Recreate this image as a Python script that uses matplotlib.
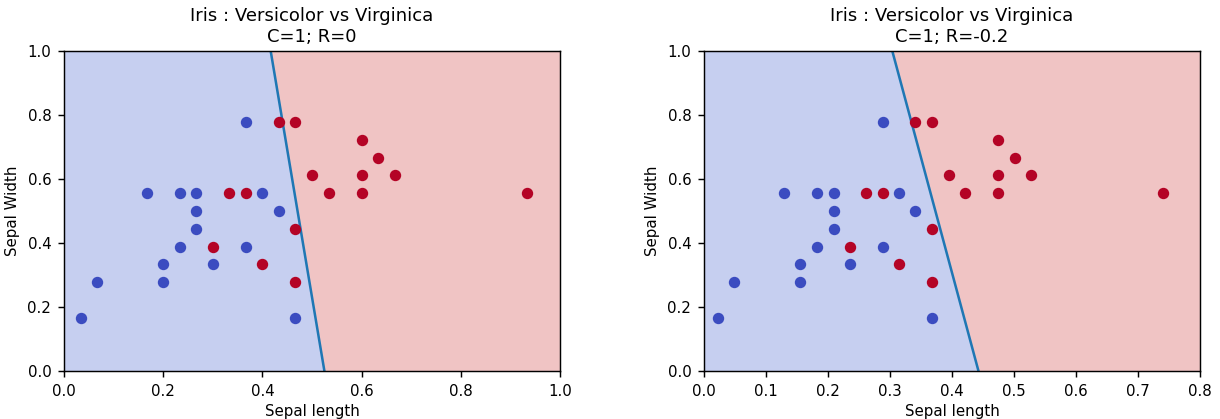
import numpy as np
import matplotlib
matplotlib.use("Agg")
import matplotlib.pyplot as plt
from matplotlib.colors import ListedColormap

plt.rcParams["font.size"] = 8.3

# Versicolor (class 0) and Virginica (class 1), normalised sepal length / width
# left panel: R=0
blue_x = [0.0333, 0.0667, 0.1667, 0.2, 0.2, 0.2333, 0.2333, 0.2667, 0.2667, 0.2667,
          0.3, 0.3667, 0.3667, 0.4, 0.4333, 0.4667]
blue_y = [0.1667, 0.2778, 0.5556, 0.3333, 0.2778, 0.5556, 0.3889, 0.5556, 0.5, 0.4444,
          0.3333, 0.7778, 0.3889, 0.5556, 0.5, 0.1667]
red_x = [0.3, 0.3333, 0.3667, 0.4, 0.4333, 0.4667, 0.4667, 0.4667, 0.5, 0.5333,
         0.6, 0.6, 0.6, 0.6333, 0.6667, 0.9333]
red_y = [0.3889, 0.5556, 0.5556, 0.3333, 0.7778, 0.7778, 0.4444, 0.2778, 0.6111, 0.5556,
         0.7222, 0.6111, 0.5556, 0.6667, 0.6111, 0.5556]

# right panel: R=-0.2 (sepal length shrunk)
blue_x2 = [0.023, 0.049, 0.129, 0.155, 0.155, 0.182, 0.182, 0.209, 0.209, 0.209,
           0.235, 0.288, 0.288, 0.315, 0.341, 0.368]
red_x2 = [0.235, 0.262, 0.288, 0.315, 0.341, 0.368, 0.368, 0.368, 0.395, 0.421,
          0.474, 0.474, 0.474, 0.501, 0.527, 0.740]

# decision boundary: x at y=1 and at y=0
bound1 = [0.4167, 0.525]
bound2 = [0.3037, 0.4427]

panels = [
    ("C=1; R=0", blue_x, red_x, bound1, 1.0, np.arange(0, 1.01, 0.2)),
    ("C=1; R=-0.2", blue_x2, red_x2, bound2, 0.8, np.arange(0, 0.81, 0.1)),
]

bg = ListedColormap(["#c6cff0", "#f0c4c4"])

fig = plt.figure(figsize=(1220 / 130, 419 / 130), dpi=130)
lefts = [64 / 1220, 704 / 1220]
for left, (sub, bx, rx, bd, xmax, xt) in zip(lefts, panels):
    ax = fig.add_axes([left, 48 / 419, 496 / 1220, 320 / 419])
    xx, yy = np.meshgrid(np.linspace(0, xmax, 600), np.linspace(0, 1, 300))
    # side of the boundary line
    xline = bd[1] + (bd[0] - bd[1]) * yy
    zz = (xx > xline).astype(float)
    ax.contourf(xx, yy, zz, levels=[-0.5, 0.5, 1.5], cmap=bg)
    ax.plot(bd, [1, 0], color="#1f77b4", lw=1.4)
    ax.scatter(bx, blue_y, color="#3b4cc0", s=28, zorder=3)
    ax.scatter(rx, red_y, color="#b40426", s=28, zorder=3)
    ax.set_xlim(0, xmax)
    ax.set_ylim(0, 1)
    ax.set_xticks(xt)
    ax.set_title("Iris : Versicolor vs Virginica\n" + sub, pad=5)
    ax.set_xlabel("Sepal length", labelpad=3)
    ax.set_ylabel("Sepal Width")

fig.savefig("out.png", dpi=130)
